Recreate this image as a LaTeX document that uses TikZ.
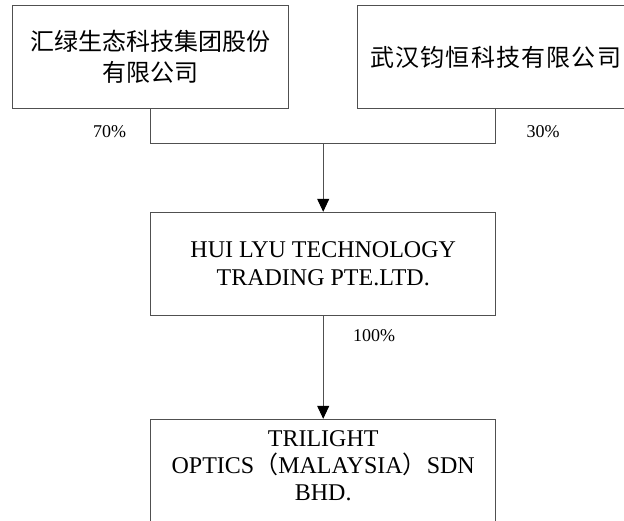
\documentclass[tikz,border=0pt]{standalone}
\usepackage{fontspec}
\setmainfont{Liberation Serif}
\newfontfamily\cjk{Noto Sans CJK SC}
\newfontfamily\cjkwide[LetterSpace=5]{Noto Sans CJK SC}
\usetikzlibrary{arrows.meta}
\definecolor{linec}{RGB}{80,80,80}
\begin{document}
\begin{tikzpicture}[x=1pt,y=-1pt,
  box/.style={draw=linec, line width=1pt, minimum height=103.4pt, inner sep=0pt, align=center, text=black},
  topbox/.style={box, minimum width=276.5pt},
  midbox/.style={box, minimum width=344.6pt},
  conn/.style={draw=linec, line width=1pt},
  arr/.style={conn, -{Triangle[length=13pt,width=12pt,fill=black,color=black]}},
  pct/.style={font=\fontsize{18}{20}\selectfont, inner sep=0pt},
  cn/.style={font=\cjk\fontsize{24}{31}\selectfont},
  en/.style={font=\fontsize{24}{28}\selectfont}]
\useasboundingbox (0,0) rectangle (624,520);
\clip (0,0) rectangle (624,520);
\fill[white] (0,0) rectangle (624,520);
% boxes
\node[topbox, cn] (a) at (150.7,57) {汇绿生态科技集团股份\\有限公司};
\node[topbox, font=\cjkwide\fontsize{24}{31}\selectfont] (b) at (495.7,57) {武汉钧恒科技有限公司};
\node[midbox, en] (c) at (323.2,264) {HUI LYU TECHNOLOGY\\TRADING PTE.LTD.};
\node[midbox] (d) at (323.2,471) {};
\node[en, align=center, inner sep=0pt, font=\fontsize{24}{27}\selectfont] (dt) at (323.2,466) {TRILIGHT\\OPTICS{\cjk（}MALAYSIA{\cjk）}SDN\\BHD.};
% connectors
\coordinate (j) at (323.2,143.3);
\draw[conn] (a.south) |- (b.south |- j) -- (b.south);
\draw[arr] (c.north |- j) -- (c.north);
\draw[arr] (c.south) -- (d.north);
% labels
\node[pct] (p70) at (109.5,132) {70\%};
\node[pct] (p30) at (543,132) {30\%};
\node[pct] (p100) at (374,335.7) {100\%};
\end{tikzpicture}
\end{document}
